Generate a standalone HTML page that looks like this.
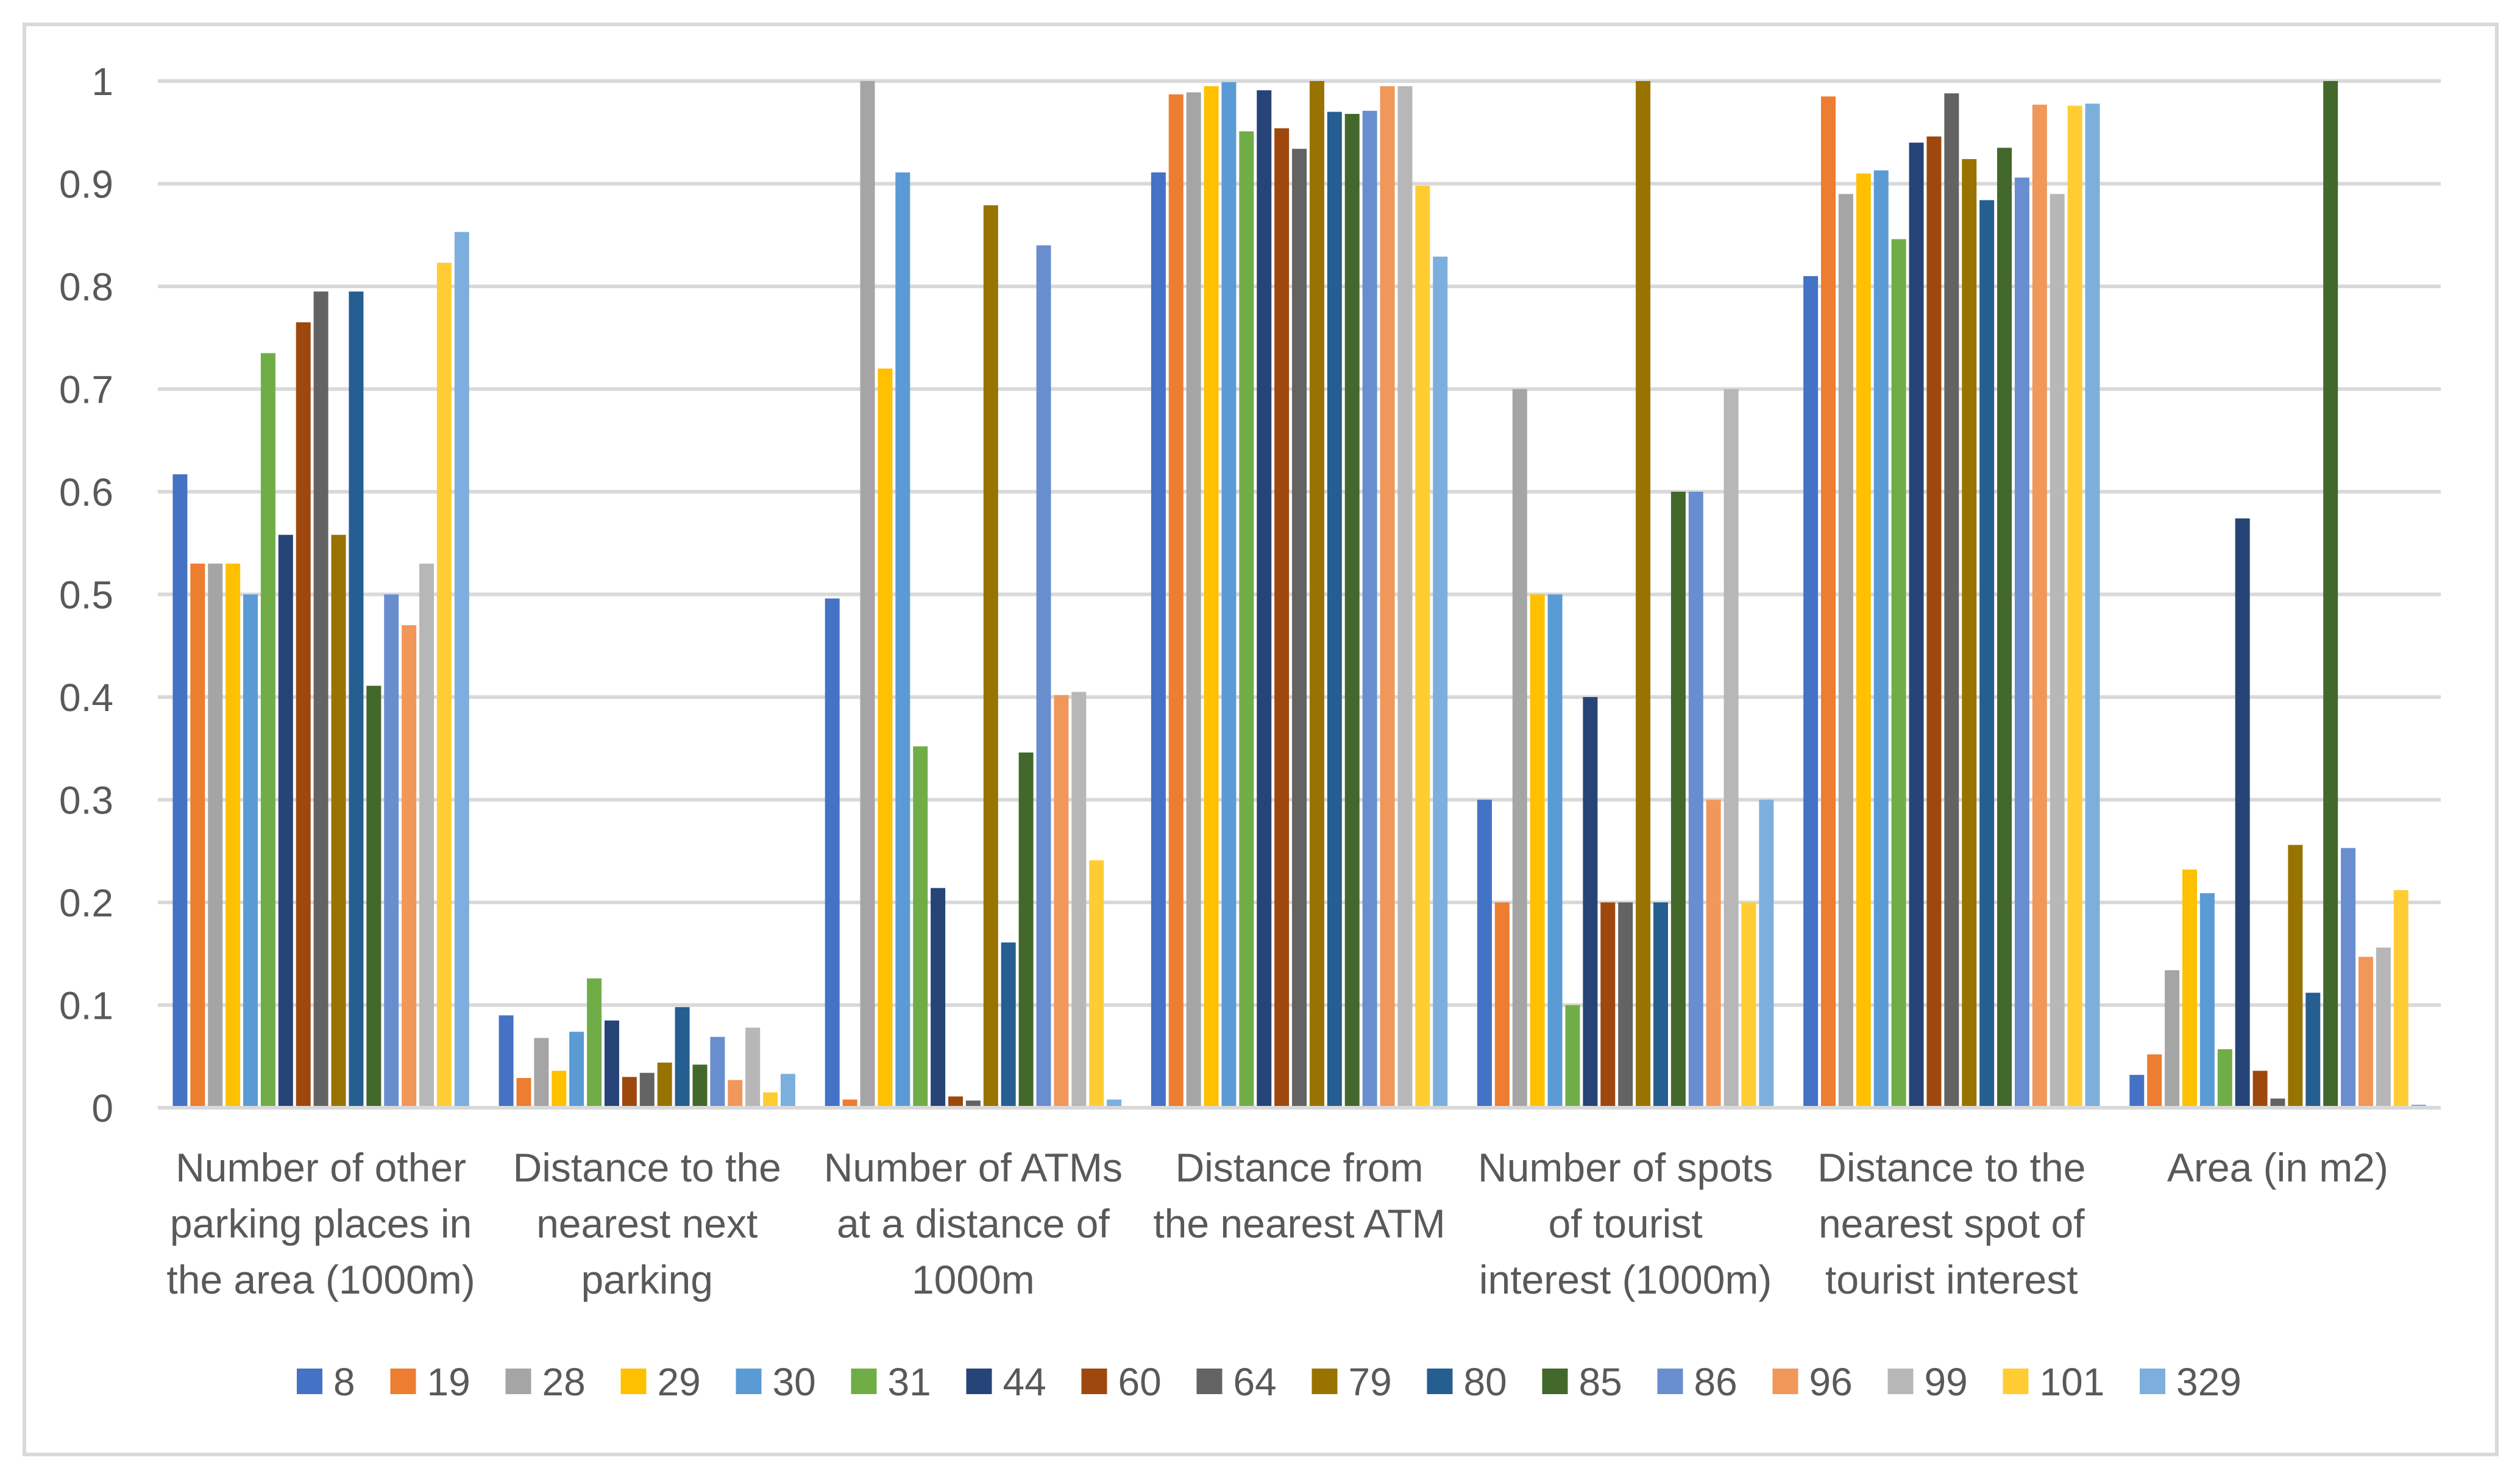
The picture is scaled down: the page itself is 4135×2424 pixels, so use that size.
<!DOCTYPE html>
<html><head><meta charset="utf-8"><style>
html,body{margin:0;padding:0;background:#fff;}
svg{display:block;}
text{font-family:"Liberation Sans",sans-serif;fill:#595959;}
</style></head><body>
<svg id="chart" width="4135" height="2424" viewBox="0 0 4135 2424" xmlns="http://www.w3.org/2000/svg">
<rect x="40" y="40" width="4057" height="2347" fill="#fff" stroke="#d9d9d9" stroke-width="6"/>
<g id="grid"></g><g id="bars"></g><g id="xlabels"></g><g id="ylabels"></g><g id="legend"></g>
</svg>
<script>
const categories = [
 ["Number of other","parking places in","the area (1000m)"],
 ["Distance to the","nearest next","parking"],
 ["Number of ATMs","at a distance of","1000m"],
 ["Distance from","the nearest ATM"],
 ["Number of spots","of tourist","interest (1000m)"],
 ["Distance to the","nearest spot of","tourist interest"],
 ["Area (in m2)"]
];
const seriesNames = ["8","19","28","29","30","31","44","60","64","79","80","85","86","96","99","101","329"];
const colors = ["#4472C4","#ED7D31","#A5A5A5","#FFC000","#5B9BD5","#70AD47","#264478","#9E480E","#636363","#997300","#255E91","#43682B","#698ED0","#F1975A","#B7B7B7","#FFCD33","#7CAFDD"];
const g1 = [0.617,0.53,0.53,0.53,0.5,0.735,0.558,0.765,0.795,0.558,0.795,0.411,0.5,0.47,0.53,0.823,0.853];
const g2 = [0.09,0.029,0.068,0.036,0.074,0.126,0.085,0.03,0.034,0.044,0.098,0.042,0.069,0.027,0.078,0.015,0.033];
const g3 = [0.496,0.008,1.0,0.72,0.911,0.352,0.214,0.011,0.007,0.879,0.161,0.346,0.84,0.402,0.405,0.241,0.008];
const g4 = [0.911,0.987,0.989,0.995,0.999,0.951,0.991,0.954,0.934,1.0,0.97,0.968,0.971,0.995,0.995,0.898,0.829];
const g5 = [0.3,0.2,0.7,0.5,0.5,0.1,0.4,0.2,0.2,1.0,0.2,0.6,0.6,0.3,0.7,0.2,0.3];
const g6 = [0.81,0.985,0.89,0.91,0.913,0.846,0.94,0.946,0.988,0.924,0.884,0.935,0.906,0.977,0.89,0.976,0.978];
const g7 = [0.032,0.052,0.134,0.232,0.209,0.057,0.574,0.036,0.009,0.256,0.112,1.0,0.253,0.147,0.156,0.212,0.003];
const groups = [g1,g2,g3,g4,g5,g6,g7];
const yTicks = [0,0.1,0.2,0.3,0.4,0.5,0.6,0.7,0.8,0.9,1];
const yTickLabels = ["0","0.1","0.2","0.3","0.4","0.5","0.6","0.7","0.8","0.9","1"];

const NS="http://www.w3.org/2000/svg";
const X0=259, X1=4005, Y0=1818, Y1=133;
const groupW=(X1-X0)/categories.length;
const pitch=28.9, barW=24;
function y(v){return Y0-(Y0-Y1)*v;}
function gx(i){return X0+groupW*i;}
function mk(tag,parent){const e=document.createElementNS(NS,tag);parent.appendChild(e);return e;}

const grid=document.getElementById('grid');
yTicks.forEach((t,i)=>{
  const l=mk('line',grid);
  
  
  l.setAttribute('x1',X0);l.setAttribute('x2',X1);
  l.setAttribute('y1',y(t));l.setAttribute('y2',y(t));
  l.setAttribute('stroke','#d9d9d9');l.setAttribute('stroke-width',6);
  const tx=mk('text',document.getElementById('ylabels'));
  
  
  tx.setAttribute('x',186);tx.setAttribute('y',y(t)+23);
  tx.setAttribute('text-anchor','end');tx.setAttribute('font-size','64');
  tx.textContent=yTickLabels[i];
});

const bars=document.getElementById('bars');
const off=(groupW-pitch*seriesNames.length)/2;
groups.forEach((vals,gi)=>{
  vals.forEach((v,si)=>{
    const r=mk('rect',bars);
    
    
    r.setAttribute('x',gx(gi)+off+si*pitch+2.5);
    r.setAttribute('y',y(v));
    r.setAttribute('width',barW);
    r.setAttribute('height',Math.max(0,Y0-y(v)-3));
    r.setAttribute('fill',colors[si]);
  });
  const t=mk('text',document.getElementById('xlabels'));
  
  
  t.setAttribute('font-size','66');t.setAttribute('text-anchor','middle');
  categories[gi].forEach((line,li)=>{
    const s=mk('tspan',t);
    s.setAttribute('x',gx(gi)+groupW/2);
    s.setAttribute('y',1939+li*92);
    s.textContent=line;
  });
});

const legend=document.getElementById('legend');
let lx=487;
seriesNames.forEach((n,i)=>{
  const r=mk('rect',legend);
  
  
  r.setAttribute('x',lx);r.setAttribute('y',2246);r.setAttribute('width',42);r.setAttribute('height',42);
  r.setAttribute('fill',colors[i]);
  const t=mk('text',legend);
  
  
  t.setAttribute('x',lx+60);t.setAttribute('y',2290);t.setAttribute('font-size','64');
  t.textContent=n;
  lx+=42+18+n.length*35.5+58;
});
</script>
</body></html>
